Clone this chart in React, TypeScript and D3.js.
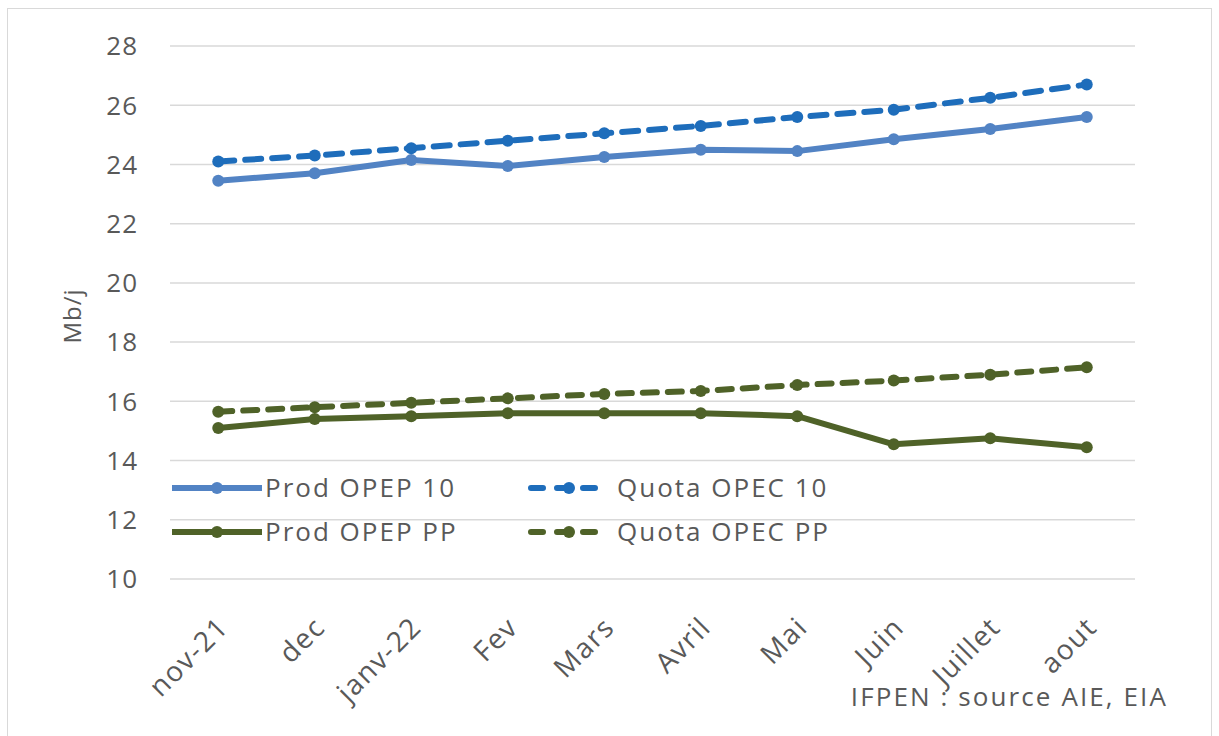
import React, { useEffect, useRef } from 'react';
import * as d3 from 'd3';

const months = ['nov-21', 'dec', 'janv-22', 'Fev', 'Mars', 'Avril', 'Mai', 'Juin', 'Juillet', 'aout'];
const prodOpep10 = [23.45, 23.7, 24.15, 23.95, 24.25, 24.5, 24.45, 24.85, 25.2, 25.6];
const quotaOpec10 = [24.1, 24.3, 24.55, 24.8, 25.05, 25.3, 25.6, 25.85, 26.25, 26.7];
const prodOpepPP = [15.1, 15.4, 15.5, 15.6, 15.6, 15.6, 15.5, 14.55, 14.75, 14.45];
const quotaOpecPP = [15.65, 15.8, 15.95, 16.1, 16.25, 16.35, 16.55, 16.7, 16.9, 17.15];
const yTicks = [10, 12, 14, 16, 18, 20, 22, 24, 26, 28];

const series = [
  { name: 'Prod OPEP 10', values: prodOpep10, color: '#5283c4', dash: null },
  { name: 'Quota OPEC 10', values: quotaOpec10, color: '#1e6dbb', dash: '16,11' },
  { name: 'Prod OPEP PP', values: prodOpepPP, color: '#4f6228', dash: null },
  { name: 'Quota OPEC PP', values: quotaOpecPP, color: '#4f6228', dash: '14,11' },
];

const W = 1219;
const H = 736;
const FONT = '"Open Sans", "Noto Sans", sans-serif';

function App() {
  const svgRef = useRef(null);

  useEffect(() => {
    const svg = d3.select(svgRef.current);
    svg.selectAll('*').remove();

    const left = 170;
    const right = 1135;
    const top = 46;
    const bottom = 579;

    const x = d3.scaleBand().domain(months).range([left, right]);
    const y = d3.scaleLinear().domain([10, 28]).range([bottom, top]);

    // frame
    svg.append('rect')
      .attr('x', 7.5).attr('y', 8.5)
      .attr('width', 1204).attr('height', 740)
      .attr('fill', '#fff')
      .attr('stroke', '#d9d9d9')
      .attr('stroke-width', 1);

    // grid
    svg.selectAll('line.grid')
      .data(yTicks)
      .enter()
      .append('line')
      .attr('x1', left).attr('x2', right)
      .attr('y1', d => y(d)).attr('y2', d => y(d))
      .attr('stroke', '#d9d9d9')
      .attr('stroke-width', 1.5);

    svg.selectAll('text.ytick')
      .data(yTicks)
      .enter()
      .append('text')
      .attr('x', 138)
      .attr('y', d => y(d))
      .attr('dy', '0.36em')
      .attr('text-anchor', 'end')
      .attr('fill', '#595959')
      .style('font-family', FONT)
      .style('font-size', '26px')
      .style('letter-spacing', '1px')
      .text(d => d);

    svg.append('text')
      .attr('transform', `translate(81,316) rotate(-90)`)
      .attr('text-anchor', 'middle')
      .attr('fill', '#595959')
      .style('font-family', FONT)
      .style('font-size', '24px')
      .style('letter-spacing', '1px')
      .text('Mb/j');

    // x labels
    svg.selectAll('text.xtick')
      .data(months)
      .enter()
      .append('text')
      .attr('transform', d => `translate(${x(d) + x.bandwidth() / 2 + 5},${bottom + 43}) rotate(-45)`)
      .attr('text-anchor', 'end')
      .attr('dy', '0.35em')
      .attr('fill', '#595959')
      .style('font-family', FONT)
      .style('font-size', '28px')
      .style('letter-spacing', '1.5px')
      .text(d => d);

    const line = d3.line()
      .x((d, i) => x(months[i]) + x.bandwidth() / 2)
      .y(d => y(d));

    series.forEach(s => {
      svg.append('path')
        .datum(s.values)
        .attr('d', line)
        .attr('fill', 'none')
        .attr('stroke', s.color)
        .attr('stroke-width', 6)
        .attr('stroke-linecap', 'round')
        .attr('stroke-linejoin', 'round')
        .attr('stroke-dasharray', s.dash);

      svg.selectAll(null)
        .data(s.values)
        .enter()
        .append('circle')
        .attr('cx', (d, i) => x(months[i]) + x.bandwidth() / 2)
        .attr('cy', d => y(d))
        .attr('r', 6)
        .attr('fill', s.color);
    });

    // legend
    const legendPos = [
      { lx: 172, ly: 488 },
      { lx: 527, ly: 488 },
      { lx: 172, ly: 532 },
      { lx: 527, ly: 532 },
    ];
    series.forEach((s, i) => {
      const p = legendPos[i];
      const g = svg.append('g');
      g.append('line')
        .attr('x1', s.dash ? p.lx + 4 : p.lx).attr('x2', s.dash ? p.lx + 80 : p.lx + 90)
        .attr('y1', p.ly).attr('y2', p.ly)
        .attr('stroke', s.color)
        .attr('stroke-width', 6)
        .attr('stroke-linecap', s.dash ? 'round' : 'butt')
        .attr('stroke-dasharray', s.dash ? '12,14' : null);
      g.append('circle')
        .attr('cx', s.dash ? p.lx + 42 : p.lx + 45).attr('cy', p.ly)
        .attr('r', 6)
        .attr('fill', s.color);
      g.append('text')
        .attr('x', s.dash ? p.lx + 90 : p.lx + 93)
        .attr('y', p.ly)
        .attr('dy', '0.36em')
        .attr('fill', '#595959')
        .style('font-family', FONT)
        .style('font-size', '26px')
        .style('letter-spacing', '2px')
        .text(s.name);
    });

    svg.append('text')
      .attr('x', 1168)
      .attr('y', 697)
      .attr('dy', '0.36em')
      .attr('text-anchor', 'end')
      .attr('fill', '#595959')
      .style('font-family', FONT)
      .style('font-size', '26px')
      .style('letter-spacing', '2.1px')
      .text('IFPEN : source AIE, EIA');
  }, []);

  return (
    <svg
      ref={svgRef}
      width={W}
      height={H}
      style={{ position: 'absolute', left: 0, top: 0, background: '#fff' }}
    />
  );
}

export default App;
